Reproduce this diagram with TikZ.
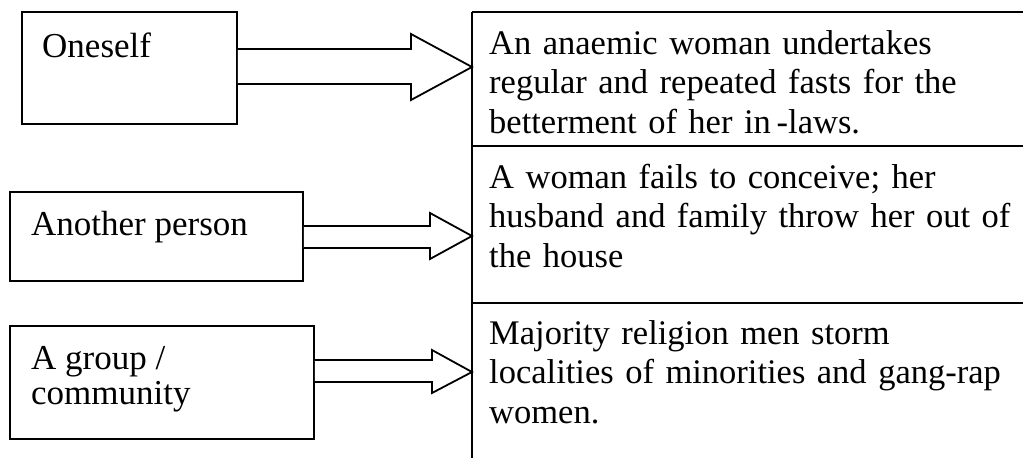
\documentclass[tikz,border=0pt]{standalone}
\usepackage{fontspec}
\setmainfont{Liberation Serif}
\tikzset{
  lw/.style={line width=1.8pt},
  leftbox/.style={draw, lw, inner sep=0pt, fill=white},
  txt/.style={inner sep=0pt, font=\fontsize{35}{40.5}\selectfont},
  celltxt/.style={inner sep=0pt, font=\fontsize{34.5}{39.5}\selectfont, text width=530pt, align=left, anchor=base west},
  blockarr/.style={draw, lw, line join=miter, fill=white},
  rule/.style={draw, lw}
}
\begin{document}
\begin{tikzpicture}[x=1pt, y=-1pt]
\useasboundingbox (0,0) rectangle (1023,458);
\fill[white] (0,0) rectangle (1023,458);

% left boxes
\node[leftbox, minimum width=215pt, minimum height=112pt] (b1) at (129.5,68) {};
\node[leftbox, minimum width=293pt, minimum height=89pt] (b2) at (156.5,236.5) {};
\node[leftbox, minimum width=304pt, minimum height=113pt] (b3) at (162,382.5) {};

\node[txt, anchor=base west] (t1) at (42,57) {Oneself};
\node[txt, anchor=base west] (t2) at (31,235) {Another person};
\node[txt, anchor=base west] (t3) at (31,369) {A group /};
\node[txt, anchor=base west] (t3b) at (31,404) {community};

% right column rules
\coordinate (vtop) at (472,12);
\coordinate (vbot) at (472,458);
\coordinate (r1) at (1023,12);
\coordinate (l2) at (472,146);
\coordinate (r2) at (1023,146);
\coordinate (l3) at (472,303);
\coordinate (r3) at (1023,303);
\draw[rule] (vtop) -- (vbot);
\draw[rule] (vtop) -- (r1);
\draw[rule] (l2) -- (r2);
\draw[rule] (l3) -- (r3);

% right cell texts
\node[celltxt] (c1) at (489,54) {An anaemic woman undertakes\\regular and repeated fasts for the\\betterment of her in\hspace{0.17em}-laws.};
\node[celltxt] (c2) at (489,188) {A woman fails to conceive; her\\husband and family throw her out of\\the house};
\node[celltxt] (c3) at (489,344) {Majority religion men storm\\localities of minorities and gang-rap\\women.};

% block arrows
\coordinate (tip1) at (472,67);
\coordinate (tip2) at (472,236);
\coordinate (tip3) at (472,372);
\draw[blockarr] (b1.east |- 0,49) -- (411,49) -- (411,34) -- (tip1) -- (411,100) -- (411,84) -- (b1.east |- 0,84);
\draw[blockarr] (b2.east |- 0,226) -- (430,226) -- (430,213) -- (tip2) -- (430,259) -- (430,248) -- (b2.east |- 0,248);
\draw[blockarr] (b3.east |- 0,360) -- (432,360) -- (432,350) -- (tip3) -- (432,393) -- (432,382) -- (b3.east |- 0,382);
\end{tikzpicture}
\end{document}
